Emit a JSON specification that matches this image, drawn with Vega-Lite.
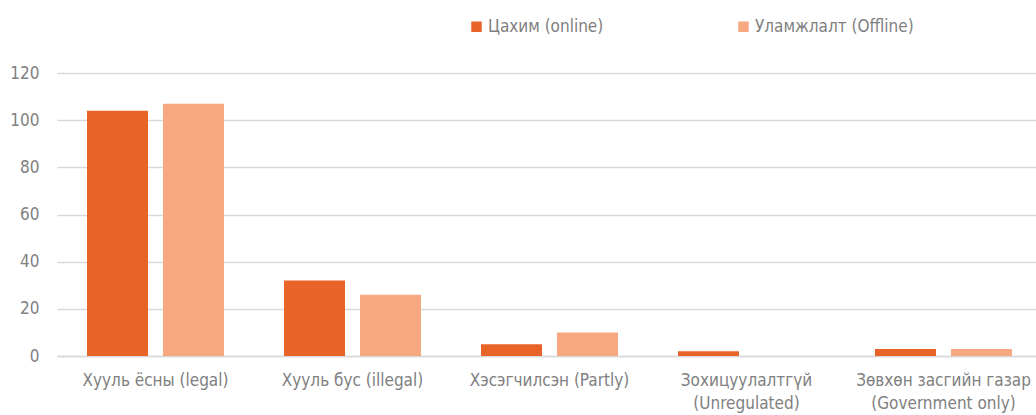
{
  "$schema": "https://vega.github.io/schema/vega-lite/v6.json",
  "autosize": "none",
  "width": 985,
  "height": 283,
  "padding": {"left": 57, "top": 73, "right": 0, "bottom": 59},
  "background": "white",
  "config": {
    "font": "Liberation Sans Narrow, DejaVu Sans Condensed, Roboto",
    "view": {"stroke": null}
  },
  "data": {
    "values": [
      {"category": "Хууль ёсны (legal)", "type": "Цахим  (online)", "value": 104},
      {"category": "Хууль ёсны (legal)", "type": "Уламжлалт (Offline)", "value": 107},
      {"category": "Хууль бус (illegal)", "type": "Цахим  (online)", "value": 32},
      {"category": "Хууль бус (illegal)", "type": "Уламжлалт (Offline)", "value": 26},
      {"category": "Хэсэгчилсэн (Partly)", "type": "Цахим  (online)", "value": 5},
      {"category": "Хэсэгчилсэн (Partly)", "type": "Уламжлалт (Offline)", "value": 10},
      {"category": "Зохицуулалтгүй\n(Unregulated)", "type": "Цахим  (online)", "value": 2},
      {"category": "Зохицуулалтгүй\n(Unregulated)", "type": "Уламжлалт (Offline)", "value": 0},
      {"category": "Зөвхөн засгийн газар\n(Government only)", "type": "Цахим  (online)", "value": 3},
      {"category": "Зөвхөн засгийн газар\n(Government only)", "type": "Уламжлалт (Offline)", "value": 3}
    ]
  },
  "mark": {"type": "bar"},
  "encoding": {
    "x": {
      "field": "category",
      "type": "nominal",
      "sort": null,
      "scale": {"paddingInner": 0, "paddingOuter": 0},
      "axis": {
        "title": null,
        "labelAngle": 0,
        "labelExpr": "split(datum.label, '\\n')",
        "labelFontSize": 17,
        "labelColor": "#808080",
        "labelLineHeight": 23,
        "labelPadding": 16,
        "labelBaseline": "top",
        "ticks": false,
        "domainColor": "#d9d9d9",
        "domainWidth": 1.5,
        "labelLimit": 300
      }
    },
    "xOffset": {
      "field": "type",
      "type": "nominal",
      "sort": ["Цахим  (online)", "Уламжлалт (Offline)"],
      "scale": {"paddingInner": 0.197, "paddingOuter": 0.395}
    },
    "y": {
      "field": "value",
      "type": "quantitative",
      "scale": {"domain": [0, 120]},
      "axis": {
        "title": null,
        "values": [0, 20, 40, 60, 80, 100, 120],
        "labelFontSize": 17,
        "labelColor": "#808080",
        "labelPadding": 18,
        "ticks": false,
        "domain": false,
        "gridColor": "#d9d9d9",
        "gridWidth": 1.5
      }
    },
    "color": {
      "field": "type",
      "type": "nominal",
      "sort": ["Цахим  (online)", "Уламжлалт (Offline)"],
      "scale": {"range": ["#E86327", "#F7A881"]},
      "legend": {
        "title": null,
        "orient": "none",
        "legendX": 411,
        "legendY": -55,
        "direction": "horizontal",
        "symbolType": "square",
        "symbolSize": 110,
        "symbolStrokeWidth": 0,
        "labelFontSize": 17,
        "labelColor": "#808080",
        "labelOffset": 3,
        "columnPadding": 126,
        "labelLimit": 300
      }
    }
  }
}
